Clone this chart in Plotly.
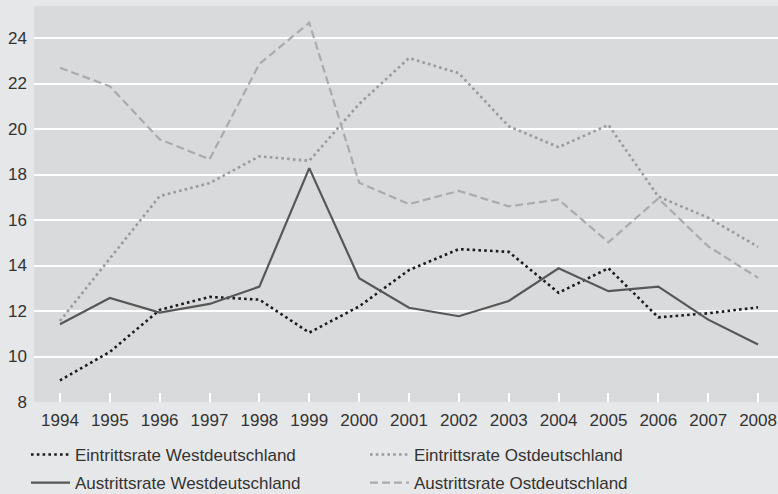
import plotly.graph_objects as go

# Jahre der Zeitreihe
years = list(range(1994, 2009))

# Eintritts- und Austrittsraten (in Prozent)
eintritt_west = [8.95, 10.2, 12.05, 12.62, 12.5, 11.05, 12.2, 13.8, 14.72, 14.6, 12.8, 13.88, 11.72, 11.9, 12.16]
austritt_west = [11.42, 12.57, 11.93, 12.31, 13.07, 18.28, 13.44, 12.14, 11.77, 12.44, 13.88, 12.87, 13.07, 11.62, 10.53]
eintritt_ost = [11.56, 14.3, 17.05, 17.62, 18.8, 18.6, 21.1, 23.12, 22.45, 20.12, 19.2, 20.18, 17.03, 16.1, 14.82]
austritt_ost = [22.69, 21.88, 19.55, 18.67, 22.86, 24.67, 17.64, 16.7, 17.28, 16.6, 16.9, 15.02, 16.95, 14.84, 13.46]

y_ticks = [8, 10, 12, 14, 16, 18, 20, 22, 24]

FONT = "Liberation Sans Narrow, Liberation Sans, Arial, sans-serif"
TEXT = "#333333"

fig = go.Figure()
# Zeile 1 der Legende: Eintrittsraten
fig.add_trace(go.Scatter(
    x=years, y=eintritt_west, mode="lines", name="Eintrittsrate Westdeutschland",
    line=dict(color="#1b1b1b", width=2.6, dash="2.6px,3.2px"), legend="legend",
))
fig.add_trace(go.Scatter(
    x=years, y=eintritt_ost, mode="lines", name="Eintrittsrate Ostdeutschland",
    line=dict(color="#9a9a9a", width=2.6, dash="2.6px,3.2px"), legend="legend",
))
# Zeile 2 der Legende: Austrittsraten
fig.add_trace(go.Scatter(
    x=years, y=austritt_west, mode="lines", name="Austrittsrate Westdeutschland",
    line=dict(color="#575757", width=2.2), legend="legend2",
))
fig.add_trace(go.Scatter(
    x=years, y=austritt_ost, mode="lines", name="Austrittsrate Ostdeutschland",
    line=dict(color="#ababab", width=2.2, dash="8px,4px"), legend="legend2",
))

legend_common = dict(
    orientation="h",
    xref="container", yref="container",
    x=26 / 778, xanchor="left", yanchor="middle",
    entrywidth=285, entrywidthmode="pixels",
    bgcolor="rgba(0,0,0,0)",
    font=dict(family=FONT, size=17, color=TEXT),
    itemwidth=39,
)

fig.update_layout(
    width=778, height=494,
    margin=dict(l=34, r=0, t=6, b=92),
    paper_bgcolor="#e6e7e8",
    plot_bgcolor="#d9dadb",
    font=dict(family=FONT, size=17, color=TEXT),
    showlegend=True,
    legend=dict(legend_common, y=1 - 455 / 494),
    legend2=dict(legend_common, y=1 - 483 / 494),
    xaxis=dict(
        range=[1993.48, 2008.4],
        tickmode="array", tickvals=years, ticktext=[str(y) for y in years],
        showgrid=False, zeroline=False, showline=False,
        ticks="inside", ticklen=9, tickwidth=2, tickcolor="#ffffff",
        tickfont=dict(family=FONT, size=17, color=TEXT),
        ticklabelstandoff=6,
        fixedrange=True,
    ),
    yaxis=dict(
        range=[8, 8 + 396 / 22.75],
        tickmode="array", tickvals=y_ticks, ticktext=[str(v) for v in y_ticks],
        showgrid=True, gridcolor="#ffffff", gridwidth=2,
        zeroline=False, showline=False, ticks="",
        tickfont=dict(family=FONT, size=17, color=TEXT),
        ticklabelstandoff=6,
        fixedrange=True,
    ),
)

fig.write_html("out.html", config=dict(displayModeBar=False))
